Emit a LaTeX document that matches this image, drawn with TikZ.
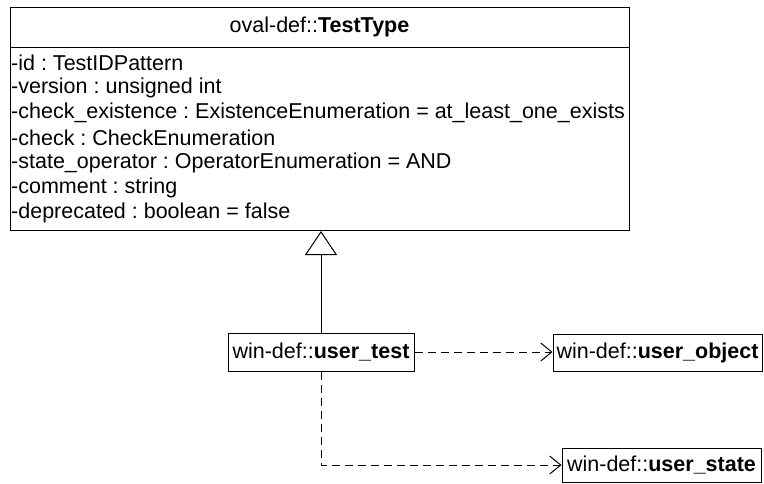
\documentclass[tikz,border=0pt]{standalone}
\usepackage{fontspec}
\setmainfont{Liberation Sans}
\usetikzlibrary{arrows.meta,calc}
\begin{document}
\frenchspacing
\begin{tikzpicture}[x=1pt,y=-1pt,
  every node/.style={font=\fontsize{21.5}{25}\selectfont, inner sep=0pt},
  umlbox/.style={draw, line width=1pt, fill=white},
  attr/.style={anchor=west},
  dep/.style={draw, line width=1pt, dash pattern=on 8pt off 5pt, -{Straight Barb[length=11pt, width=18pt, line width=1pt]}},
  gen/.style={draw, line width=1pt, -{Triangle[open, length=24pt, width=32pt, line width=1pt]}}
]
\useasboundingbox (0,0) rectangle (764,483);
\node[umlbox, minimum width=619pt, minimum height=223pt, anchor=north west] (tt) at (10,7) {};
\coordinate (sepL) at (10,47);
\coordinate (sepR) at (629,47);
\draw[line width=1pt] (sepL) -- (sepR);
\node (hdr) at (319.5,27) {oval-def::\textbf{TestType}};
\node[attr] (a1) at (11,63) {-id : TestIDPattern};
\node[attr] (a2) at (11,88) {-version : unsigned int};
\node[attr] (a3) at (11,113) {-check\_existence : ExistenceEnumeration = at\_least\_one\_exists};
\node[attr] (a4) at (11,138) {-check : CheckEnumeration};
\node[attr] (a5) at (11,163) {-state\_operator : OperatorEnumeration = AND};
\node[attr] (a6) at (11,188) {-comment : string};
\node[attr] (a7) at (11,213) {-deprecated : boolean = false};

\node[umlbox, minimum width=186pt, minimum height=38pt] (ut) at (321,352) {win-def::\textbf{user\_test}};
\node[umlbox, minimum width=209pt, minimum height=37pt] (uo) at (657.5,352.5) {win-def::\textbf{user\_object}};
\node[umlbox, minimum width=199pt, minimum height=34pt] (us) at (661.5,465) {win-def::\textbf{user\_state}};

\draw[gen] (ut.north) -- (ut.north |- tt.south);
\draw[dep] (ut.east) -- (ut.east -| uo.west);
\draw[dep] (ut.south) |- (us.west);
\end{tikzpicture}
\end{document}
